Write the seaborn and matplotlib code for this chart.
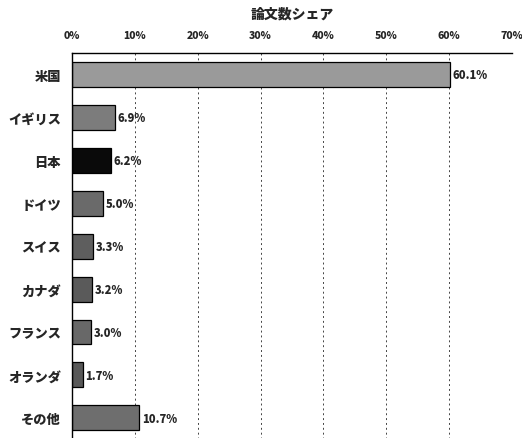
import matplotlib
matplotlib.use("Agg")
import matplotlib.pyplot as plt
import seaborn as sns
from matplotlib.ticker import PercentFormatter

# data
countries = ["米国", "イギリス", "日本", "ドイツ", "スイス", "カナダ", "フランス", "オランダ", "その他"]
shares = [60.1, 6.9, 6.2, 5.0, 3.3, 3.2, 3.0, 1.7, 10.7]
bar_colors = ["#9a9a9a", "#7c7c7c", "#0a0a0a", "#6a6a6a", "#5e5e5e", "#5a5a5a", "#686868", "#585858", "#6e6e6e"]
x_ticks = [0, 10, 20, 30, 40, 50, 60, 70]

sns.set_theme(style="white")
plt.rcParams['font.family'] = ['Noto Sans CJK JP', 'DejaVu Sans']
plt.rcParams['font.weight'] = 'heavy'

fig = plt.figure(figsize=(5.22, 4.39), dpi=100)
ax = fig.add_axes([0.138, -0.003, 0.843, 0.880])

sns.barplot(x=shares, y=countries, hue=countries, palette=bar_colors, legend=False,
            width=0.58, edgecolor="black", linewidth=0.9, ax=ax)

ax.set_xlim(0, 70)
ax.set_ylim(8.5, -0.5)
ax.set_xticks(x_ticks)
ax.xaxis.set_major_formatter(PercentFormatter(decimals=0))
ax.xaxis.tick_top()
ax.tick_params(axis="x", length=0, pad=9, labelsize=7.5)
ax.tick_params(axis="y", length=0, pad=8, labelsize=9.5)
for lab in ax.get_xticklabels() + ax.get_yticklabels():
    lab.set_fontweight("heavy")

ax.grid(axis="x", color="#444444", linestyle=(0, (2, 3)), linewidth=0.7)
ax.set_axisbelow(True)
for side in ["right", "bottom"]:
    ax.spines[side].set_visible(False)
for side in ["top", "left"]:
    ax.spines[side].set_color("black")
    ax.spines[side].set_linewidth(1.0)

for i, v in enumerate(shares):
    ax.text(v + 0.4, i, f"{v:.1f}%", va="center", ha="left", fontsize=8, fontweight="heavy")

ax.set_xlabel("")
ax.set_ylabel("")
fig.text(0.559, 0.968, "論文数シェア", ha="center", va="center", fontsize=10, fontweight="heavy")

fig.savefig("out.png", dpi=100)
